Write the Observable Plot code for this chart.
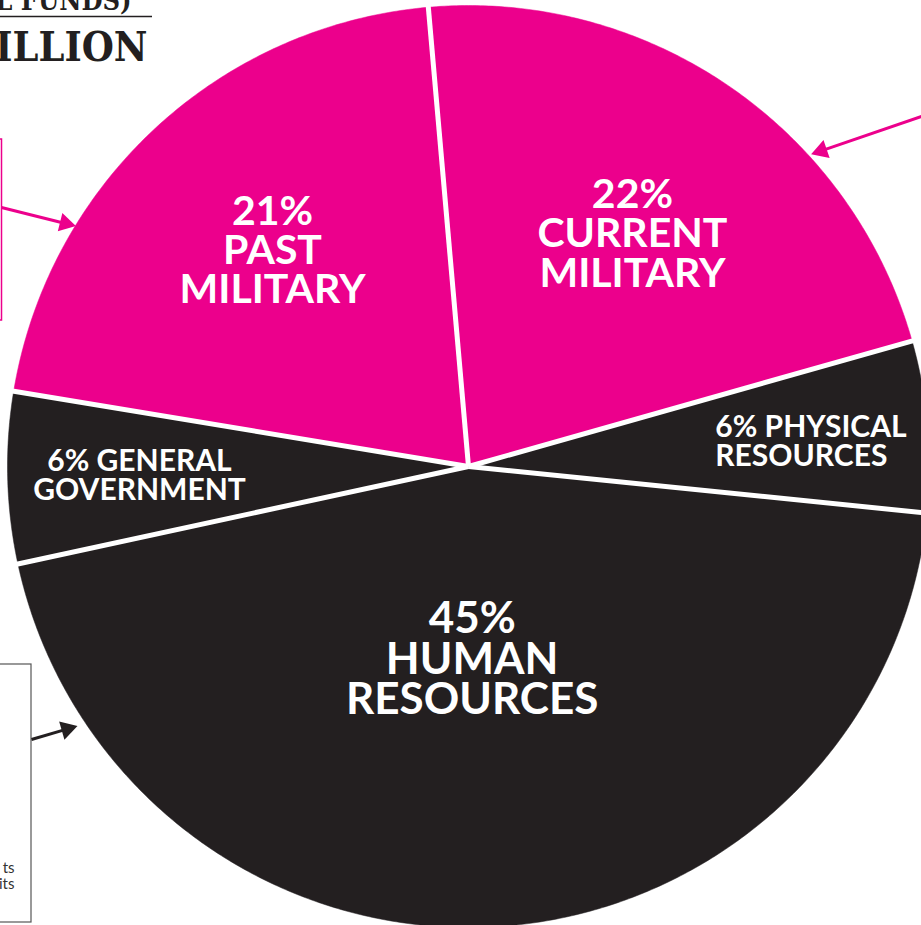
<!DOCTYPE html>
<html><head><meta charset="utf-8">
<script src="https://cdn.jsdelivr.net/npm/d3@7"></script>
<script src="https://cdn.jsdelivr.net/npm/@observablehq/plot@0.6"></script>
<style>html,body{margin:0;padding:0;background:#fff;overflow:hidden;width:921px;height:925px}</style>
</head><body><div id="chart"></div>
<script>
// ---- data ----
const categories = ["Current Military", "Physical Resources", "Human Resources", "General Government", "Past Military"];
const shares = [22, 6, 45, 6, 21];
const labelLines = ["22%\nCURRENT\nMILITARY", "6% PHYSICAL\nRESOURCES", "45%\nHUMAN\nRESOURCES", "6% GENERAL\nGOVERNMENT", "21%\nPAST\nMILITARY"];
const sliceColors = ["#EC008C", "#231F20", "#231F20", "#231F20", "#EC008C"];
const titleLines = ["(FEDERAL FUNDS)", "BILLION"];
const boxTextLines = ["ts", "its"];
const calloutTargets = ["Past Military", "Current Military", "Human Resources"];

// ---- layout ----
const W = 921, H = 925;
const cx = 468, cy = 466, R = 461;
const startDeg = -5;
const labelRadius = [0.616, 0.538, 0.4165, 0.714, 0.631];
const labelAngleShift = [0.66, -0.6, 2.1, -0.34, 0.45];
const labelAnchor = ["middle", "start", "middle", "middle", "middle"];
const labelSize = [41, 30, 44, 30, 41];
const calloutLayout = [
  {tail: [1, 207], angle: 301.3, r: 465, color: "#EC008C"},
  {tail: [921, 116], angle: 47.9, r: 468, color: "#EC008C"},
  {tail: [31, 739], angle: 236.6, r: 474, color: "#231F20"}
];

const slices = categories.map((name, i) => ({name, share: shares[i], label: labelLines[i], i}));
const rad = Math.PI / 180;
const arcs = d3.pie().sort(null).value(d => d.share)
  .startAngle(startDeg * rad).endAngle((startDeg + 360) * rad)(slices);

const px = (a, r) => cx + r * Math.sin(a);
const py = (a, r) => cy - r * Math.cos(a);

const polyPts = [];
arcs.forEach(a => {
  const name = a.data.name;
  polyPts.push({name, x: cx, y: cy});
  const n = Math.ceil((a.endAngle - a.startAngle) / (0.5 * rad));
  for (let k = 0; k <= n; k++) {
    const t = a.startAngle + (a.endAngle - a.startAngle) * k / n;
    polyPts.push({name, x: px(t, R), y: py(t, R)});
  }
  polyPts.push({name, x: cx, y: cy});
});
const spokes = arcs.map(a => ({x1: cx, y1: cy, x2: px(a.startAngle, R + 6), y2: py(a.startAngle, R + 6)}));
const labels = arcs.map(a => {
  const i = a.data.i;
  const m = (a.startAngle + a.endAngle) / 2 + labelAngleShift[i] * rad;
  const r = R * labelRadius[i];
  return {name: a.data.name, share: a.data.share, label: a.data.label, anchor: labelAnchor[i], size: labelSize[i], x: px(m, r), y: py(m, r) + (a.data.share > 40 ? 2 : 0)};
});
const arrows = calloutTargets.map((t, i) => {
  const L = calloutLayout[i];
  const x2 = px(L.angle * rad, L.r), y2 = py(L.angle * rad, L.r);
  const dx = x2 - L.tail[0], dy = y2 - L.tail[1], len = Math.hypot(dx, dy);
  const ux = dx / len, uy = dy / len;
  return {target: t, x1: L.tail[0], y1: L.tail[1], x2, y2,
    hx: x2 - ux * 6, hy: y2 - uy * 6, sx: x2 - ux * 8, sy: y2 - uy * 8,
    rot: Math.atan2(dx, -dy) / rad, color: L.color};
});

const sans = "Lato, 'Open Sans', sans-serif";
const stencil = "'DejaVu Serif Condensed', 'DejaVu Serif', serif";

const labelMark = (filterFn, opts) => Plot.text(labels.filter(filterFn), {
  x: "x", y: "y", text: "label", fill: "white", fontFamily: sans, fontWeight: 700,
  fontSize: "size", lineAnchor: "middle", ...opts
});

const chart = Plot.plot({
  width: W, height: H,
  margin: 0,
  x: {domain: [0, W], range: [0, W], axis: null},
  y: {domain: [0, H], range: [0, H], axis: null},
  color: {domain: categories, range: sliceColors, legend: false},
  style: {background: "white", overflow: "visible"},
  marks: [
    Plot.line(polyPts, {x: "x", y: "y", z: "name", fill: "name", stroke: "name", strokeWidth: 0.5, curve: "linear"}),
    Plot.link(spokes, {x1: "x1", y1: "y1", x2: "x2", y2: "y2", stroke: "white", strokeWidth: 5, strokeLinecap: "butt"}),
    labelMark(d => d.share >= 10 && d.share < 40, {textAnchor: "middle", lineHeight: 0.96}),
    labelMark(d => d.share >= 40, {textAnchor: "middle", lineHeight: 0.93}),
    labelMark(d => d.share < 10 && d.anchor === "middle", {textAnchor: "middle", lineHeight: 0.97}),
    labelMark(d => d.share < 10 && d.anchor === "start", {textAnchor: "start", lineHeight: 0.97}),
    // title (cropped at the edges)
    Plot.text([titleLines[0]], {x: [131], y: [9], text: d => d, textAnchor: "end", lineAnchor: "bottom",
      fontFamily: stencil, fontWeight: 700, fontSize: 27, fill: "#231F20"}),
    Plot.ruleY([16], {x1: -30, x2: 152, stroke: "#231F20", strokeWidth: 1.5}),
    Plot.text([titleLines[1]], {x: [147], y: [60], text: d => d, textAnchor: "end", lineAnchor: "bottom",
      fontFamily: stencil, fontWeight: 700, fontSize: 41, fill: "#231F20"}),
    // callout boxes
    Plot.rect([{x1: -30, x2: 1.5, y1: 139, y2: 320}], {x1: "x1", x2: "x2", y1: "y1", y2: "y2", fill: "none", stroke: "#EC008C", strokeWidth: 1.5}),
    Plot.rect([{x1: -30, x2: 31, y1: 664, y2: 922}], {x1: "x1", x2: "x2", y1: "y1", y2: "y2", fill: "none", stroke: "#555", strokeWidth: 1.2}),
    Plot.text(boxTextLines, {x: [14, 14], y: [872, 888], text: d => d, textAnchor: "end", lineAnchor: "bottom",
      fontFamily: sans, fontSize: 15, fill: "#333"}),
    // arrows: shaft + filled head
    Plot.link(arrows, {x1: "x1", y1: "y1", x2: "sx", y2: "sy", stroke: "color", strokeWidth: 3}),
    Plot.dot(arrows, {x: "hx", y: "hy", symbol: "triangle", rotate: "rot", r: 7, fill: "color", stroke: "none"})
  ]
});
document.getElementById("chart").appendChild(chart);
</script>
</body></html>
